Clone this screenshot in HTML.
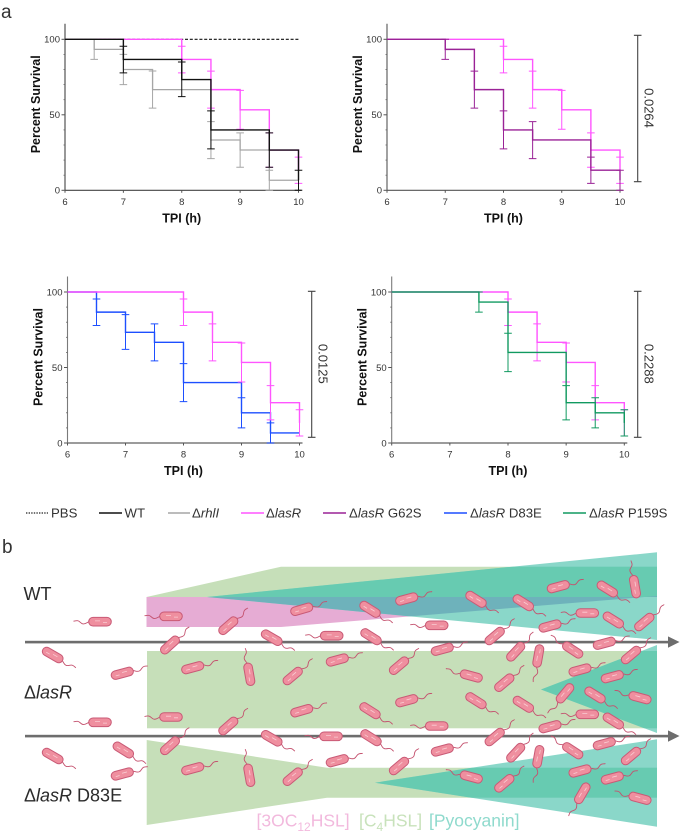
<!DOCTYPE html>
<html lang="en">
<head>
<meta charset="utf-8">
<title>Survival curves and quorum sensing schematic</title>
<style>
html,body{margin:0;padding:0;background:#fff;}
svg{display:block;font-family:"Liberation Sans",sans-serif;filter:blur(0.3px);}
</style>
</head>
<body>
<svg id="figure" xmlns="http://www.w3.org/2000/svg" width="700" height="837" viewBox="0 0 700 837">
  <rect x="0" y="0" width="700" height="837" fill="#fff"/>
  <text x="1" y="18" font-size="19" fill="#333">a</text>
  <text x="2" y="553" font-size="19" fill="#333">b</text>
  <g id="panels"></g>

  <g font-size="13.2" fill="#333">
    <g>
      <line x1="26" x2="48" y1="513" y2="513" stroke="#222" stroke-width="1.2" stroke-dasharray="1.4 1.2"/>
      <text x="51" y="517.5">PBS</text>
    </g>
    <g>
      <line x1="99" x2="122" y1="513" y2="513" stroke="#111" stroke-width="1.5"/>
      <text x="124.5" y="517.5">WT</text>
    </g>
    <g>
      <line x1="168" x2="190" y1="513" y2="513" stroke="#a6a6a6" stroke-width="1.5"/>
      <text x="192" y="517.5">Δ<tspan font-style="italic">rhlI</tspan></text>
    </g>
    <g>
      <line x1="241" x2="264" y1="513" y2="513" stroke="#ff55ff" stroke-width="1.5"/>
      <text x="266" y="517.5">Δ<tspan font-style="italic">lasR</tspan></text>
    </g>
    <g>
      <line x1="323" x2="346" y1="513" y2="513" stroke="#9a2296" stroke-width="1.5"/>
      <text x="349" y="517.5">Δ<tspan font-style="italic">lasR</tspan> G62S</text>
    </g>
    <g>
      <line x1="444" x2="467" y1="513" y2="513" stroke="#1d4fff" stroke-width="1.5"/>
      <text x="470" y="517.5">Δ<tspan font-style="italic">lasR</tspan> D83E</text>
    </g>
    <g>
      <line x1="563" x2="586" y1="513" y2="513" stroke="#119a60" stroke-width="1.5"/>
      <text x="589" y="517.5">Δ<tspan font-style="italic">lasR</tspan> P159S</text>
    </g>
  </g>

  <defs>
    <clipPath id="clip-teal-1"><polygon points="207,597 657,552.3 657,640"/></clipPath>
    <clipPath id="clip-teal-2"><polygon points="541,689.5 657,645 657,733"/></clipPath>
    <clipPath id="clip-teal-3"><polygon points="375,782.7 657,739.3 657,826.7"/></clipPath>
  </defs>

  <g>
    <g>
      <polygon points="146.5,597 281,566.7 657,566.7 657,597" fill="#c6dfb9"/>
      <polygon points="146.5,597 146.5,627 281,627 657,596 657,597" fill="#e6acd4"/>
      <polygon points="207,597 657,552.3 657,640" fill="#8ad7c9"/>
      <g clip-path="url(#clip-teal-1)">
        <rect x="146" y="566.7" width="511" height="30.3" fill="#67cbb1"/>
        <polygon points="146.5,597 146.5,627 281,627 657,596 657,597" fill="#6eb2bb"/>
      </g>
    </g>
    <g>
      <rect x="147" y="651" width="510" height="77.3" fill="#c6dfb9"/>
      <polygon points="541,689.5 657,645 657,733" fill="#8ad7c9"/>
      <rect clip-path="url(#clip-teal-2)" x="147" y="651" width="510" height="77.3" fill="#67cbb1"/>
    </g>
    <g>
      <polygon points="146.7,740 327,767.7 657,767.7 657,797.7 327,797.7 146.7,825" fill="#c6dfb9"/>
      <polygon points="375,782.7 657,739.3 657,826.7" fill="#8ad7c9"/>
      <rect clip-path="url(#clip-teal-3)" x="327" y="767.7" width="330" height="30" fill="#67cbb1"/>
    </g>
  </g>

  <g fill="#6d6d6d">
    <rect x="25" y="640.8" width="644" height="2.6"/>
    <polygon points="668,636.4 679.5,642 668,647.8"/>
    <rect x="25" y="734.8" width="644" height="2.6"/>
    <polygon points="668,730.4 679.5,736 668,741.8"/>
  </g>

  <g id="bacteria"></g>

  <g font-size="18" fill="#2b2b2b">
    <text x="23.5" y="600">WT</text>
    <text x="24" y="698.3">Δ<tspan font-style="italic">lasR</tspan></text>
    <text x="24" y="801.7">Δ<tspan font-style="italic">lasR</tspan> D83E</text>
  </g>

  <g font-size="17.5">
    <text x="256.5" y="826.5" fill="#f2b9dd">[3OC<tspan font-size="12" dy="4.5">12</tspan><tspan dy="-4.5">HSL]</tspan></text>
    <text x="359" y="826.5" fill="#c8e2bb">[C<tspan font-size="12" dy="4.5">4</tspan><tspan dy="-4.5">HSL]</tspan></text>
    <text x="429" y="826.5" fill="#8fdacd">[Pyocyanin]</text>
  </g>
</svg>

<script>
// ---- survival data (hours, percent) ----
const xTickLabels = [6, 7, 8, 9, 10];
const yTickLabels = [0, 50, 100];
const yMinorTicks = [10, 20, 30, 40, 60, 70, 80, 90];

const pbsTimes = [10];
const pbsSurvival = [100];

const wtTimes = [7, 8, 8.5, 9.5, 10];
const wtSurvival = [86.67, 73.33, 40, 26.67, 6.67];
const wtUpper = [95.4, 85, 52.6, 38, 13.3];
const wtLower = [77.8, 62, 27.4, 15.3, 0];

const rhlTimes = [6.5, 7, 7.5, 8.5, 9, 9.5];
const rhlSurvival = [93.33, 80, 66.67, 33.33, 26.67, 6.67];
const rhlUpper = [100, 90, 79, 45.5, 38, 13.3];
const rhlLower = [86.67, 70, 54.4, 21, 15.3, 0];

const lasTimes = [8, 8.5, 9, 9.5, 10];
const lasSurvival = [86.67, 66.67, 53.33, 26.67, 13.33];
const lasUpper = [95.4, 78.9, 66.2, 38, 22];
const lasLower = [77.8, 54.4, 40.4, 15.3, 4.6];

const g62sTimes = [7, 7.5, 8, 8.5, 9.5, 10];
const g62sSurvival = [93.33, 66.67, 40, 33.33, 13.33, 6.67];
const g62sUpper = [100, 78.9, 52.6, 45.5, 22, 13.3];
const g62sLower = [86.67, 54.4, 27.4, 21, 4.6, 0];

const d83eTimes = [6.5, 7, 7.5, 8, 9, 9.5];
const d83eSurvival = [86.67, 73.33, 66.67, 40, 20, 6.67];
const d83eUpper = [95.4, 85, 78.9, 52.6, 30, 13.3];
const d83eLower = [77.8, 62, 54.4, 27.4, 10, 0];

const p159sTimes = [7.5, 8, 9, 9.5, 10];
const p159sSurvival = [93.33, 60, 26.67, 20, 13.33];
const p159sUpper = [100, 72.7, 38, 30, 22];
const p159sLower = [86.67, 47.3, 15.3, 10, 4.6];

const pValueLabels = ["0.0264", "0.0125", "0.2288"];

// ---- schematic cells: centre x, centre y, tail direction in degrees ----
const cellX = [100,171,228.3,301.7,436.7,271.7,331.7,170,52.7,122.3,192.7,249.3,292.7,337.3,370,406.7,476,523.3,558.3,607.3,635,587.3,613.3,644.3,550,371,494.7,442.3,399,515.7,538.3,572.7,604.3,631,580,612.3,471.3,504.3,565,595,640,370,406.7,476,523.3,587.3,613.3,550,436.7,371,494.7,442.3,399,515.7,538.3,572.7,604.3,631,580,612.3,471.3,504.3,582.3,640,100,171,228.3,301.7,271.7,331,170,52.7,123.3,122.3,192.7,249.3,292.7,337.3];
const cellY = [621.7,616.3,625.7,609.3,625.3,637.7,635.7,645,655,673.3,667.7,674.3,676,660,609.3,599,599.3,602.7,586.7,589,586.7,613,620,622,626,636.7,636,649.3,665.7,651.7,656,650,643.3,655,670,676.7,676,682.7,693.3,695,697.7,710.7,700.7,700.7,704.3,714.3,721,726.7,726,737.7,737,750,766,752.7,756.7,750.7,743.7,756,771,778,777,783.3,793.3,798.3,722.3,717,726,710.7,738.3,736.3,745.7,756,750,774,768.7,775.3,776.7,760.7];
const cellAngle = [180,180,-41,-16,180,30,180,-42,30,-15,-15,-100,-40,-15,32,-15,32,32,-15,32,-100,180,32,-40,-15,32,-40,-15,-40,-47,100,-147,-15,-40,-15,-15,195,-40,130,32,195,32,-15,32,32,180,32,-15,180,32,-40,-15,-40,-47,100,-147,-15,-40,-15,-15,195,-40,120,195,180,180,-41,-16,30,180,-42,30,32,-15,-15,-100,-40,-15];

const SVG_NS = "http://www.w3.org/2000/svg";
function make(tag, attrs, parent) {
  const el = document.createElementNS(SVG_NS, tag);
  for (const k in attrs) el.setAttribute(k, attrs[k]);
  parent.appendChild(el);
  return el;
}

function drawSeries(group, label, color, times, survival, upper, lower, scaleX, scaleY, width) {
  const s = make("g", {}, group);
  
  
  let d = "M" + scaleX(6) + "," + scaleY(100);
  times.forEach(function (t, i) {
    d += "H" + scaleX(t) + "V" + scaleY(survival[i]);
  });
  d += "H" + scaleX(10);
  const line = make("path", {d: d, fill: "none", stroke: color, "stroke-width": width}, s);
  
  
  times.forEach(function (t, i) {
    const cx = scaleX(t);
    const top = scaleY(upper[i]);
    const bottom = scaleY(lower[i]);
    const path = "M" + cx + "," + top + "V" + bottom +
      "M" + (cx - 3.8) + "," + top + "H" + (cx + 3.8) +
      "M" + (cx - 3.8) + "," + bottom + "H" + (cx + 3.8);
    const bar = make("path", {d: path, fill: "none", stroke: color, "stroke-width": 1}, s);
    
    
  });
}

function drawPanel(cfg) {
  const root = document.getElementById("panels");
  const g = make("g", {}, root);
  
  
  const scaleX = function (t) { return cfg.x0 + (t - 6) / 4 * (cfg.x1 - cfg.x0); };
  const scaleY = function (v) { return cfg.y100 + (100 - v) / 100 * (cfg.y0 - cfg.y100); };

  const yAxis = make("line", {x1: cfg.x0, x2: cfg.x0, y1: cfg.y100 - 15.5, y2: cfg.y0, stroke: cfg.axisColor, "stroke-width": 1.1}, g);
  
  
  const xAxis = make("line", {x1: cfg.x0, x2: cfg.x1 + 3, y1: cfg.y0, y2: cfg.y0, stroke: cfg.axisColor, "stroke-width": cfg.axisWidth}, g);
  
  

  yMinorTicks.forEach(function (v) {
    const t = make("line", {x1: cfg.x0 - 1.5, x2: cfg.x0, y1: scaleY(v), y2: scaleY(v), stroke: "#666", "stroke-width": 0.8}, g);
    
    
  });
  yTickLabels.forEach(function (v) {
    const t = make("line", {x1: cfg.x0 - 3.5, x2: cfg.x0, y1: scaleY(v), y2: scaleY(v), stroke: "#555", "stroke-width": 1}, g);
    
    
    const l = make("text", {x: cfg.x0 - 5, y: scaleY(v) + 3.4, "text-anchor": "end", "font-size": 9.5, fill: "#333"}, g);
    
    
    l.textContent = v;
  });
  xTickLabels.forEach(function (v) {
    const t = make("line", {x1: scaleX(v), x2: scaleX(v), y1: cfg.y0, y2: cfg.y0 + 2.5, stroke: "#555", "stroke-width": 1}, g);
    
    
    const l = make("text", {x: scaleX(v), y: cfg.y0 + 14.7, "text-anchor": "middle", "font-size": 9.5, fill: "#333"}, g);
    
    
    l.textContent = v;
  });

  const xTitle = make("text", {x: (cfg.x0 + cfg.x1) / 2, y: cfg.y0 + 32, "text-anchor": "middle", "font-size": 12.5, "font-weight": "bold", fill: "#111"}, g);
  
  
  xTitle.textContent = "TPI (h)";
  const midY = (cfg.y100 + cfg.y0) / 2 - 10.5;
  const yTitle = make("text", {transform: "translate(" + (cfg.x0 - 25) + "," + midY + ") rotate(-90)", "text-anchor": "middle", "font-size": 12.5, "font-weight": "bold", fill: "#111"}, g);
  
  
  yTitle.textContent = "Percent Survival";

  cfg.series.forEach(function (draw) { draw(g, scaleX, scaleY); });

  if (cfg.bracketX) {
    const b = make("path", {
      d: "M" + cfg.bracketX + "," + cfg.bracketTop + "V" + cfg.bracketBottom +
         "M" + (cfg.bracketX - 3.8) + "," + cfg.bracketTop + "H" + (cfg.bracketX + 3.8) +
         "M" + (cfg.bracketX - 3.8) + "," + cfg.bracketBottom + "H" + (cfg.bracketX + 3.8),
      fill: "none", stroke: "#444", "stroke-width": 1.1}, g);
    
    
    const p = make("text", {transform: "translate(" + (cfg.bracketX + 7) + "," + ((cfg.bracketTop + cfg.bracketBottom) / 2 - 0.5) + ") rotate(90)", "text-anchor": "middle", "font-size": 13, fill: "#333"}, g);
    
    
    p.textContent = cfg.pValue;
  }
}

const pink = "#ff55ff", black = "#111111", gray = "#a6a6a6", purple = "#9a2296", blue = "#1d4fff", green = "#119a60";
function lasSeries(g, sx, sy) { drawSeries(g, "lasr", pink, lasTimes, lasSurvival, lasUpper, lasLower, sx, sy, 1.4); }

drawPanel({
  name: "panel-wt-rhli-lasr", x0: 65, x1: 298.5, y100: 39.3, y0: 190.3, axisColor: "#444", axisWidth: 1.2,
  series: [
    function (g, sx, sy) {
      const d = make("line", {x1: sx(6), x2: sx(pbsTimes[0]), y1: sy(pbsSurvival[0]), y2: sy(pbsSurvival[0]), stroke: "#111", "stroke-width": 1.2, "stroke-dasharray": "3 1.8"}, g);
      
      
    },
    lasSeries,
    function (g, sx, sy) { drawSeries(g, "rhli", gray, rhlTimes, rhlSurvival, rhlUpper, rhlLower, sx, sy, 1.3); },
    function (g, sx, sy) { drawSeries(g, "wt", black, wtTimes, wtSurvival, wtUpper, wtLower, sx, sy, 1.4); }
  ]
});
drawPanel({
  name: "panel-g62s", x0: 387, x1: 620, y100: 39.3, y0: 190.3, axisColor: "#555", axisWidth: 1.2,
  bracketX: 637.7, bracketTop: 35.3, bracketBottom: 181.7, pValue: pValueLabels[0],
  series: [
    lasSeries,
    function (g, sx, sy) { drawSeries(g, "g62s", purple, g62sTimes, g62sSurvival, g62sUpper, g62sLower, sx, sy, 1.4); }
  ]
});
drawPanel({
  name: "panel-d83e", x0: 67.5, x1: 299.5, y100: 292, y0: 443, axisColor: "#7a7a7a", axisWidth: 1.6,
  bracketX: 311.7, bracketTop: 291.3, bracketBottom: 437.3, pValue: pValueLabels[1],
  series: [
    function (g, sx, sy) { drawSeries(g, "d83e", blue, d83eTimes, d83eSurvival, d83eUpper, d83eLower, sx, sy, 1.4); },
    lasSeries
  ]
});
drawPanel({
  name: "panel-p159s", x0: 391.7, x1: 624.3, y100: 292, y0: 443, axisColor: "#7a7a7a", axisWidth: 1.6,
  bracketX: 637.7, bracketTop: 291.3, bracketBottom: 437.3, pValue: pValueLabels[2],
  series: [
    lasSeries,
    function (g, sx, sy) { drawSeries(g, "p159s", green, p159sTimes, p159sSurvival, p159sUpper, p159sLower, sx, sy, 1.4); }
  ]
});

const cellLayer = document.getElementById("bacteria");
cellX.forEach(function (x, i) {
  const a = cellAngle[i];
  const flip = Math.abs(a) > 90 ? -1 : 1;
  const cell = make("g", {transform: "translate(" + x + "," + cellY[i] + ") rotate(" + a + ") scale(1," + flip + ")"}, cellLayer);
  
  
  const tail = make("path", {d: "M11,0c2,.8 3.5,2.6 6,2.2s3,-3 5.5,-3.2s2.5,.6 4,.4", fill: "none", stroke: "#c4516e", "stroke-width": 0.9}, cell);
  
  
  const body = make("rect", {x: -11.3, y: -4.3, width: 22.6, height: 8.6, rx: 4.3, fill: "#ef8f9f", stroke: "#c95a76", "stroke-width": 1}, cell);
  
  
  const sheen = make("path", {d: "M-7,0.8h4M0,-0.8h5", fill: "none", stroke: "#f9cdd3", "stroke-width": 0.8}, cell);
  
  
});
</script>
</body>
</html>
